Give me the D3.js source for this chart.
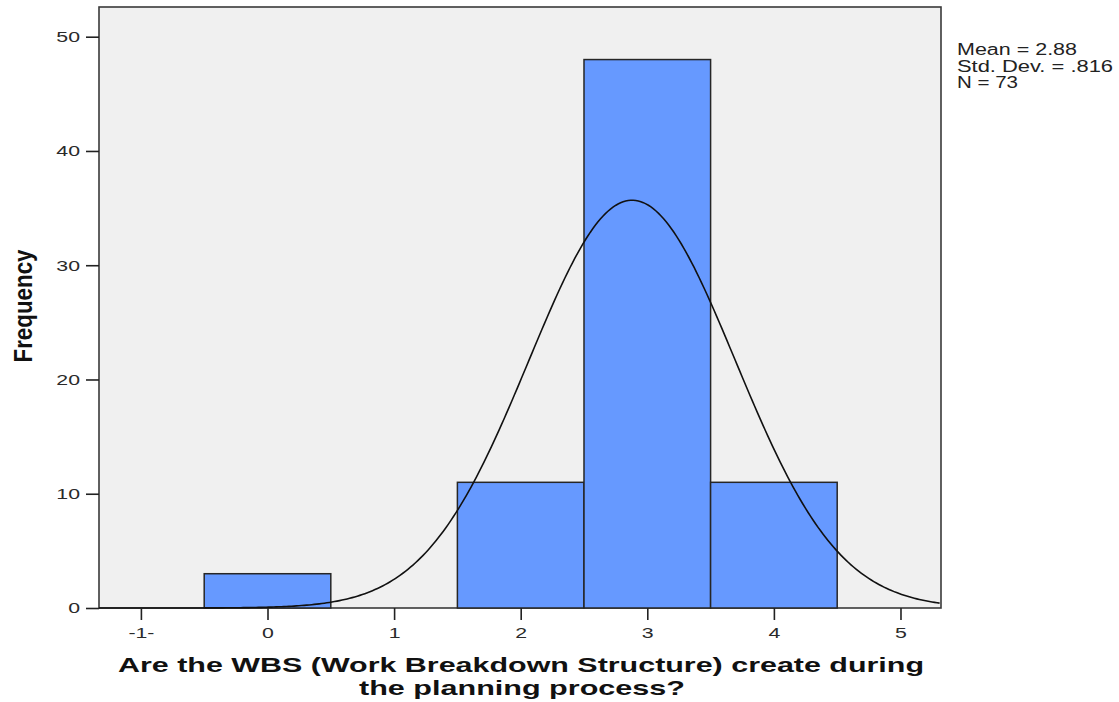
<!DOCTYPE html>
<html>
<head>
<meta charset="utf-8">
<script src="https://cdn.jsdelivr.net/npm/d3@7"></script>
<style>
  body { margin: 0; background: #fff; }
  svg text { font-family: "Liberation Sans", Arial, sans-serif; }
</style>
</head>
<body>
<svg id="chart" width="1119" height="702"></svg>
<script>
// histogram data
const binCenters = [0, 2, 3, 4];
const counts = [3, 11, 48, 11];
const binWidth = 1;

const xTicks = [-1, 0, 1, 2, 3, 4, 5];
const xTickLabels = ["-1-", "0", "1", "2", "3", "4", "5"];
const yTicks = [0, 10, 20, 30, 40, 50];

const mean = 2.88;
const sd = 0.816;
const n = 73;
const statLines = ["Mean = 2.88", "Std. Dev. = .816", "N = 73"];

const xTitle = ["Are the WBS (Work Breakdown Structure) create during", "the planning process?"];
const yTitle = "Frequency";

const svg = d3.select("#chart");

const x = d3.scaleLinear().domain([-1.331, 5.32]).range([99, 941]);
const y = d3.scaleLinear().domain([0, 52.6]).range([608, 7]);

// plot frame
svg.append("rect")
  .attr("x", x.range()[0])
  .attr("y", y.range()[1])
  .attr("width", x.range()[1] - x.range()[0])
  .attr("height", y.range()[0] - y.range()[1])
  .attr("fill", "#f0f0f0")
  .attr("stroke", "#3a3a3a")
  .attr("stroke-width", 1.6);

// bars
svg.selectAll("rect.bar")
  .data(binCenters)
  .enter()
  .append("rect")
  .attr("class", "bar")
  .attr("x", d => x(d - binWidth / 2))
  .attr("y", (d, i) => y(counts[i]))
  .attr("width", d => x(d + binWidth / 2) - x(d - binWidth / 2))
  .attr("height", (d, i) => y(0) - y(counts[i]))
  .attr("fill", "#6699ff")
  .attr("stroke", "#262626")
  .attr("stroke-width", 1.5);

// normal curve from the stats
const normal = v => n * binWidth * Math.exp(-0.5 * ((v - mean) / sd) ** 2) / (sd * Math.sqrt(2 * Math.PI));
const curveX = d3.range(x.domain()[0], x.domain()[1] + 0.001, 0.02);
svg.append("path")
  .datum(curveX)
  .attr("fill", "none")
  .attr("stroke", "#111")
  .attr("stroke-width", 1.6)
  .attr("d", d3.line().x(d => x(d)).y(d => y(normal(d))));

// Axes
const sx = 1.42;
const xAxis = d3.axisBottom(x)
  .tickValues(xTicks)
  .tickFormat((d, i) => xTickLabels[i])
  .tickSize(12)
  .tickSizeOuter(0)
  .tickPadding(7);

const gx = svg.append("g")
  .attr("transform", `translate(0, ${y(0)})`)
  .call(xAxis);
gx.select(".domain").remove();
gx.selectAll("line").attr("stroke", "#222").attr("stroke-width", 1.6);
gx.selectAll("text")
  .attr("fill", "#2a2a2a")
  .style("font-size", "15px")
  .attr("transform", `scale(${sx},1)`);

const yAxis = d3.axisLeft(y)
  .tickValues(yTicks)
  .tickSize(13)
  .tickSizeOuter(0);

const gy = svg.append("g")
  .attr("transform", `translate(${x.range()[0]}, 0)`)
  .call(yAxis);
gy.select(".domain").remove();
gy.selectAll("line").attr("stroke", "#222").attr("stroke-width", 1.6);
gy.selectAll("text")
  .attr("fill", "#2a2a2a")
  .style("font-size", "15px")
  .attr("x", -19 / sx)
  .attr("transform", `scale(${sx},1)`);

// axis titles
svg.append("text")
  .attr("x", 118)
  .attr("y", 672)
  .attr("textLength", 806)
  .attr("lengthAdjust", "spacingAndGlyphs")
  .style("font-size", "20.5px")
  .style("font-weight", "bold")
  .attr("fill", "#111")
  .text(xTitle[0]);

svg.append("text")
  .attr("x", 359)
  .attr("y", 695)
  .attr("textLength", 326)
  .attr("lengthAdjust", "spacingAndGlyphs")
  .style("font-size", "20.5px")
  .style("font-weight", "bold")
  .attr("fill", "#111")
  .text(xTitle[1]);

svg.append("text")
  .attr("transform", `translate(32, 306) scale(1.45,1) rotate(-90)`)
  .attr("text-anchor", "middle")
  .attr("textLength", 113)
  .attr("lengthAdjust", "spacingAndGlyphs")
  .style("font-size", "18px")
  .style("font-weight", "bold")
  .attr("fill", "#111")
  .text(yTitle);

// stats box
const statWidths = [120, 156, 61];
svg.selectAll("text.stat")
  .data(statLines)
  .enter()
  .append("text")
  .attr("class", "stat")
  .attr("x", 957)
  .attr("y", (d, i) => 55 + i * 16.5)
  .attr("textLength", (d, i) => statWidths[i])
  .attr("lengthAdjust", "spacingAndGlyphs")
  .style("font-size", "16px")
  .attr("fill", "#222")
  .text(d => d);
</script>
</body>
</html>
